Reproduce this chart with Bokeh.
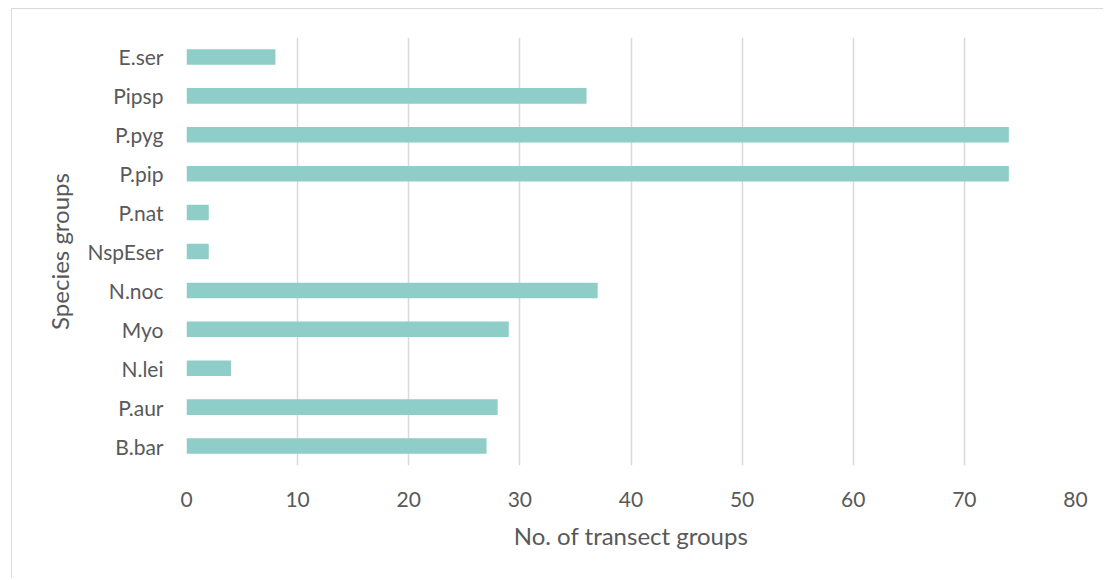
from bokeh.plotting import figure
from bokeh.embed import file_html
from bokeh.resources import INLINE
from bokeh.models import FixedTicker, Range1d

species = ["B.bar", "P.aur", "N.lei", "Myo", "N.noc", "NspEser", "P.nat", "P.pip", "P.pyg", "Pipsp", "E.ser"]
counts = [27, 28, 4, 29, 37, 2, 2, 74, 74, 36, 8]
x_ticks = [0, 10, 20, 30, 40, 50, 60, 70, 80]

FONT = "Lato"
TEXT = "#595959"

p = figure(y_range=species, x_range=Range1d(0, 80), width=1092, height=570,
           output_backend="svg", toolbar_location=None,
           min_border_left=174, min_border_right=29, min_border_top=28, min_border_bottom=114)

p.hbar(y=species, right=counts, left=0, height=0.4, color="#8FCEC8", line_color=None)

p.outline_line_color = None
p.background_fill_color = "white"
p.border_fill_color = "white"

p.xgrid.ticker = FixedTicker(ticks=x_ticks)
p.xgrid.grid_line_color = "#d9d9d9"
p.xgrid.grid_line_width = 1.5
p.ygrid.grid_line_color = None

p.xaxis.ticker = FixedTicker(ticks=x_ticks)
p.xaxis.axis_line_color = None
p.xaxis.major_tick_line_color = None
p.xaxis.minor_tick_line_color = None
p.xaxis.major_label_standoff = 20
p.xaxis.axis_label = "No. of transect groups"
p.xaxis.axis_label_standoff = 11

p.yaxis.axis_line_color = None
p.yaxis.major_tick_line_color = None
p.yaxis.minor_tick_line_color = None
p.yaxis.major_label_standoff = 17
p.yaxis.axis_label = "Species groups"
p.yaxis.axis_label_standoff = 10

for ax in (p.xaxis, p.yaxis):
    ax.major_label_text_font = FONT
    ax.major_label_text_font_size = "21px"
    ax.major_label_text_color = TEXT
    ax.axis_label_text_font = FONT
    ax.axis_label_text_font_size = "24px"
    ax.axis_label_text_font_style = "normal"
    ax.axis_label_text_color = TEXT

p.styles = {"margin-left": "11px", "margin-top": "8px",
            "border-left": "1px solid #d9d9d9", "border-top": "1px solid #d9d9d9"}

open("out.html", "w").write(file_html(p, INLINE))
